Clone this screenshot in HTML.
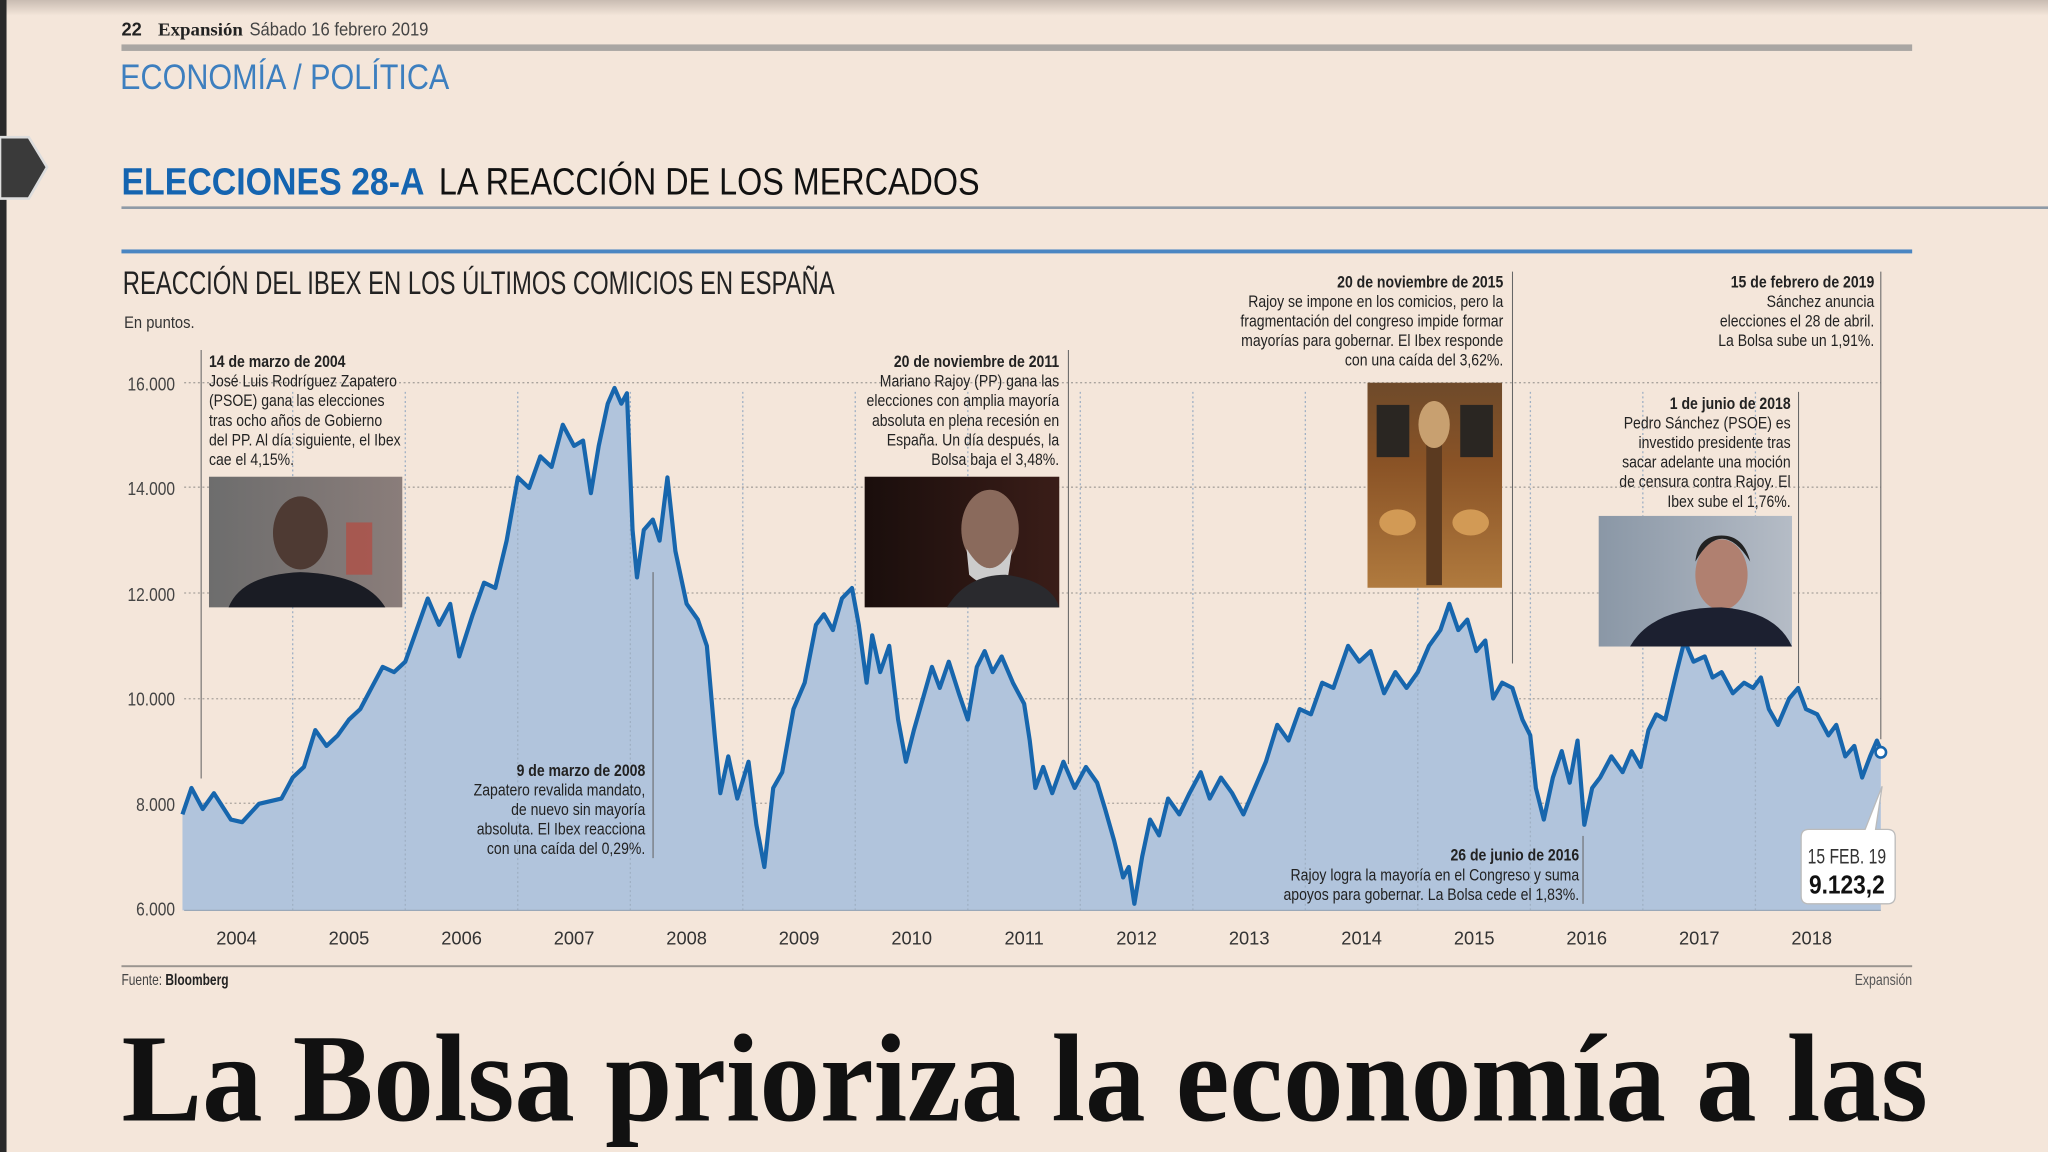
<!DOCTYPE html>
<html><head><meta charset="utf-8"><style>
html,body{margin:0;padding:0;background:#f4e6da;}
svg{display:block}
text{font-family:"Liberation Sans Narrow","Liberation Sans",sans-serif;fill:#222}
.n{font-size:12.5px}
.b{font-weight:bold;font-size:12.5px}
</style></head><body>
<svg width="2048" height="1152" viewBox="0 0 1568 882" preserveAspectRatio="none" xmlns="http://www.w3.org/2000/svg">
<defs>
<linearGradient id="top" x1="0" y1="0" x2="0" y2="1"><stop offset="0" stop-color="#c9bcb2"/><stop offset="1" stop-color="#f4e6da"/></linearGradient>
<linearGradient id="p1" x1="0" y1="0" x2="1" y2="0"><stop offset="0" stop-color="#6d6d6d"/><stop offset="1" stop-color="#8a7d7a"/></linearGradient>
<linearGradient id="p2" x1="0" y1="0" x2="1" y2="0"><stop offset="0" stop-color="#1a0e0c"/><stop offset="1" stop-color="#3a1d18"/></linearGradient>
<linearGradient id="p3" x1="0" y1="0" x2="0" y2="1"><stop offset="0" stop-color="#6e4a2a"/><stop offset=".4" stop-color="#8a5326"/><stop offset="1" stop-color="#b07a3e"/></linearGradient>
<linearGradient id="p4" x1="0" y1="0" x2="1" y2="0"><stop offset="0" stop-color="#8a97a6"/><stop offset="1" stop-color="#b5bcc6"/></linearGradient>
</defs>
<rect width="1568" height="882" fill="#f4e6da"/>
<rect width="1568" height="12" fill="url(#top)"/>
<rect x="0" y="0" width="5" height="882" fill="#2a2a2a"/>
<path d="M0,105 L22,105 L36,128 L22,152 L0,152 Z" fill="#3a3a3a" stroke="#ddd" stroke-width="2"/>

<text x="93" y="27" style="font-size:14px;font-weight:bold">22</text>
<text x="121" y="27" style="font-size:14px;font-weight:bold;font-family:'Liberation Serif',serif" textLength="65" lengthAdjust="spacingAndGlyphs">Expansión</text>
<text x="191" y="27" style="font-size:14px;fill:#444" textLength="137" lengthAdjust="spacingAndGlyphs">Sábado 16 febrero 2019</text>
<rect x="93" y="34" width="1371" height="5" fill="#a9a6a3"/>
<text x="92" y="68" style="font-size:27px;fill:#3d7fbf" textLength="252" lengthAdjust="spacingAndGlyphs">ECONOMÍA / POLÍTICA</text>

<text x="93" y="149" style="font-size:29px;font-weight:bold;fill:#1464b0;font-family:'Liberation Sans',sans-serif" textLength="232" lengthAdjust="spacingAndGlyphs">ELECCIONES 28-A</text>
<text x="336" y="149" style="font-size:29px;fill:#111" textLength="414" lengthAdjust="spacingAndGlyphs">LA REACCIÓN DE LOS MERCADOS</text>
<rect x="93" y="158" width="1475" height="2" fill="#8e9aa6"/>
<rect x="93" y="191" width="1371" height="3" fill="#4a86c2"/>
<text x="94" y="225" style="font-size:25px;fill:#222" textLength="545" lengthAdjust="spacingAndGlyphs">REACCIÓN DEL IBEX EN LOS ÚLTIMOS COMICIOS EN ESPAÑA</text>
<text x="95" y="251" style="font-size:13px;fill:#333" textLength="54" lengthAdjust="spacingAndGlyphs">En puntos.</text>

<!-- grid -->
<g stroke="#a9a39d" stroke-width="1" stroke-dasharray="1.5,2">
<line x1="141" y1="615" x2="1440" y2="615"/><line x1="141" y1="535" x2="1440" y2="535"/><line x1="141" y1="454" x2="1440" y2="454"/><line x1="141" y1="373" x2="1440" y2="373"/><line x1="141" y1="293" x2="1440" y2="293"/>
</g>
<g style="font-size:14px" text-anchor="end" transform="matrix(0.85,0,0,1,20.1,0)">
<text x="134" y="299" style="fill:#444">16.000</text><text x="134" y="379" style="fill:#444">14.000</text><text x="134" y="460" style="fill:#444">12.000</text><text x="134" y="540" style="fill:#444">10.000</text><text x="134" y="621" style="fill:#444">8.000</text><text x="134" y="701" style="fill:#444">6.000</text>
</g>

<g id="data">
<path fill="#b1c4dc" stroke="none" d="M139.7,623.5 L146.6,603.3 L155.2,619.4 L163.8,607.3 L176.8,627.5 L185.4,629.5 L198.3,615.4 L215.5,611.4 L224.1,595.3 L232.7,587.2 L241.4,559.0 L250.0,571.1 L258.6,563.0 L267.2,550.9 L275.8,542.9 L284.4,526.7 L293.0,510.6 L301.7,514.6 L310.3,506.6 L318.9,482.4 L327.5,458.2 L336.1,478.4 L344.7,462.3 L351.6,502.6 L362.0,470.3 L370.6,446.1 L379.2,450.2 L387.9,413.9 L396.5,365.5 L405.1,373.6 L413.7,349.4 L422.3,357.5 L430.9,325.2 L439.5,341.4 L446.4,337.3 L452.4,377.6 L458.4,341.4 L465.3,309.1 L470.5,297.0 L475.7,309.1 L480.0,301.1 L484.3,405.8 L487.7,442.1 L492.9,405.8 L499.8,397.8 L505.0,413.9 L511.0,365.5 L517.1,421.9 L525.7,462.3 L534.3,474.4 L541.2,494.5 L547.2,563.0 L551.5,607.3 L557.6,579.1 L564.5,611.4 L573.1,583.2 L579.1,631.5 L585.2,663.8 L592.0,603.3 L598.9,591.2 L607.5,542.9 L616.1,522.7 L624.7,478.4 L630.8,470.3 L637.7,482.4 L644.6,458.2 L652.3,450.2 L657.5,478.4 L663.5,522.7 L667.8,486.4 L673.9,514.6 L680.8,494.5 L687.6,550.9 L693.6,583.2 L699.7,559.0 L706.6,534.8 L713.5,510.6 L719.5,526.7 L726.4,506.6 L734.1,530.8 L741.0,550.9 L747.9,510.6 L753.9,498.5 L760.0,514.6 L766.9,502.6 L775.5,522.7 L784.1,538.8 L788.4,567.0 L792.7,603.3 L798.7,587.2 L805.6,607.3 L814.2,583.2 L822.8,603.3 L831.4,587.2 L840.0,599.3 L846.1,619.4 L853.0,643.6 L859.9,671.8 L864.2,663.8 L868.5,692.0 L874.5,655.7 L880.5,627.5 L887.4,639.6 L894.3,611.4 L902.9,623.5 L910.7,607.3 L919.3,591.2 L926.2,611.4 L934.8,595.3 L943.4,607.3 L952.0,623.5 L960.6,603.3 L969.2,583.2 L977.9,555.0 L986.5,567.0 L995.1,542.9 L1003.7,546.9 L1012.3,522.7 L1020.9,526.7 L1032.1,494.5 L1040.7,506.6 L1049.4,498.5 L1059.7,530.8 L1068.3,514.6 L1076.9,526.7 L1085.5,514.6 L1094.1,494.5 L1102.8,482.4 L1109.6,462.3 L1116.5,482.4 L1123.4,474.4 L1130.3,498.5 L1137.2,490.4 L1143.2,534.8 L1150.1,522.7 L1157.9,526.7 L1165.6,550.9 L1171.6,563.0 L1175.9,603.3 L1182.0,627.5 L1188.9,595.3 L1195.7,575.1 L1201.8,599.3 L1207.8,567.0 L1213.0,631.5 L1219.0,603.3 L1225.1,595.3 L1233.7,579.1 L1242.3,591.2 L1249.2,575.1 L1256.1,587.2 L1262.1,559.0 L1268.1,546.9 L1275.0,550.9 L1283.6,514.6 L1289.7,490.4 L1296.6,506.6 L1305.2,502.6 L1311.2,518.7 L1318.1,514.6 L1326.7,530.8 L1335.3,522.7 L1342.2,526.7 L1348.2,518.7 L1354.3,542.9 L1361.2,555.0 L1369.8,534.8 L1376.7,526.7 L1382.7,542.9 L1391.3,546.9 L1399.9,563.0 L1405.9,555.0 L1412.8,579.1 L1419.7,571.1 L1425.7,595.3 L1431.8,579.1 L1437.0,567.0 L1440.0,574.0 L1440,697 L139.7,697 Z"/>
<g stroke="#9fb0c4" stroke-width="1" stroke-dasharray="1.5,2">
<line x1="224.1" y1="300" x2="224.1" y2="697"/><line x1="310.3" y1="300" x2="310.3" y2="697"/><line x1="396.4" y1="300" x2="396.4" y2="697"/><line x1="482.6" y1="300" x2="482.6" y2="697"/><line x1="568.7" y1="300" x2="568.7" y2="697"/><line x1="654.8" y1="300" x2="654.8" y2="697"/><line x1="741.0" y1="300" x2="741.0" y2="697"/><line x1="827.1" y1="300" x2="827.1" y2="697"/><line x1="913.3" y1="300" x2="913.3" y2="697"/><line x1="999.4" y1="300" x2="999.4" y2="697"/><line x1="1085.5" y1="300" x2="1085.5" y2="697"/><line x1="1171.7" y1="300" x2="1171.7" y2="697"/><line x1="1257.8" y1="300" x2="1257.8" y2="697"/><line x1="1344.0" y1="300" x2="1344.0" y2="697"/>
</g>
<path fill="none" stroke="#1766ad" stroke-width="3.2" stroke-linejoin="round" d="M139.7,623.5 L146.6,603.3 L155.2,619.4 L163.8,607.3 L176.8,627.5 L185.4,629.5 L198.3,615.4 L215.5,611.4 L224.1,595.3 L232.7,587.2 L241.4,559.0 L250.0,571.1 L258.6,563.0 L267.2,550.9 L275.8,542.9 L284.4,526.7 L293.0,510.6 L301.7,514.6 L310.3,506.6 L318.9,482.4 L327.5,458.2 L336.1,478.4 L344.7,462.3 L351.6,502.6 L362.0,470.3 L370.6,446.1 L379.2,450.2 L387.9,413.9 L396.5,365.5 L405.1,373.6 L413.7,349.4 L422.3,357.5 L430.9,325.2 L439.5,341.4 L446.4,337.3 L452.4,377.6 L458.4,341.4 L465.3,309.1 L470.5,297.0 L475.7,309.1 L480.0,301.1 L484.3,405.8 L487.7,442.1 L492.9,405.8 L499.8,397.8 L505.0,413.9 L511.0,365.5 L517.1,421.9 L525.7,462.3 L534.3,474.4 L541.2,494.5 L547.2,563.0 L551.5,607.3 L557.6,579.1 L564.5,611.4 L573.1,583.2 L579.1,631.5 L585.2,663.8 L592.0,603.3 L598.9,591.2 L607.5,542.9 L616.1,522.7 L624.7,478.4 L630.8,470.3 L637.7,482.4 L644.6,458.2 L652.3,450.2 L657.5,478.4 L663.5,522.7 L667.8,486.4 L673.9,514.6 L680.8,494.5 L687.6,550.9 L693.6,583.2 L699.7,559.0 L706.6,534.8 L713.5,510.6 L719.5,526.7 L726.4,506.6 L734.1,530.8 L741.0,550.9 L747.9,510.6 L753.9,498.5 L760.0,514.6 L766.9,502.6 L775.5,522.7 L784.1,538.8 L788.4,567.0 L792.7,603.3 L798.7,587.2 L805.6,607.3 L814.2,583.2 L822.8,603.3 L831.4,587.2 L840.0,599.3 L846.1,619.4 L853.0,643.6 L859.9,671.8 L864.2,663.8 L868.5,692.0 L874.5,655.7 L880.5,627.5 L887.4,639.6 L894.3,611.4 L902.9,623.5 L910.7,607.3 L919.3,591.2 L926.2,611.4 L934.8,595.3 L943.4,607.3 L952.0,623.5 L960.6,603.3 L969.2,583.2 L977.9,555.0 L986.5,567.0 L995.1,542.9 L1003.7,546.9 L1012.3,522.7 L1020.9,526.7 L1032.1,494.5 L1040.7,506.6 L1049.4,498.5 L1059.7,530.8 L1068.3,514.6 L1076.9,526.7 L1085.5,514.6 L1094.1,494.5 L1102.8,482.4 L1109.6,462.3 L1116.5,482.4 L1123.4,474.4 L1130.3,498.5 L1137.2,490.4 L1143.2,534.8 L1150.1,522.7 L1157.9,526.7 L1165.6,550.9 L1171.6,563.0 L1175.9,603.3 L1182.0,627.5 L1188.9,595.3 L1195.7,575.1 L1201.8,599.3 L1207.8,567.0 L1213.0,631.5 L1219.0,603.3 L1225.1,595.3 L1233.7,579.1 L1242.3,591.2 L1249.2,575.1 L1256.1,587.2 L1262.1,559.0 L1268.1,546.9 L1275.0,550.9 L1283.6,514.6 L1289.7,490.4 L1296.6,506.6 L1305.2,502.6 L1311.2,518.7 L1318.1,514.6 L1326.7,530.8 L1335.3,522.7 L1342.2,526.7 L1348.2,518.7 L1354.3,542.9 L1361.2,555.0 L1369.8,534.8 L1376.7,526.7 L1382.7,542.9 L1391.3,546.9 L1399.9,563.0 L1405.9,555.0 L1412.8,579.1 L1419.7,571.1 L1425.7,595.3 L1431.8,579.1 L1437.0,567.0 L1440.0,574.0"/>
</g>
<line x1="141" y1="697" x2="1440" y2="697" stroke="#9aa8b8" stroke-width="1"/>

<g style="font-size:14px" text-anchor="middle">
<text x="181.1" y="723" style="fill:#333">2004</text><text x="267.2" y="723" style="fill:#333">2005</text><text x="353.4" y="723" style="fill:#333">2006</text><text x="439.5" y="723" style="fill:#333">2007</text><text x="525.7" y="723" style="fill:#333">2008</text><text x="611.8" y="723" style="fill:#333">2009</text><text x="698.0" y="723" style="fill:#333">2010</text><text x="784.1" y="723" style="fill:#333">2011</text><text x="870.2" y="723" style="fill:#333">2012</text><text x="956.4" y="723" style="fill:#333">2013</text><text x="1042.5" y="723" style="fill:#333">2014</text><text x="1128.7" y="723" style="fill:#333">2015</text><text x="1214.8" y="723" style="fill:#333">2016</text><text x="1301.0" y="723" style="fill:#333">2017</text><text x="1387.1" y="723" style="fill:#333">2018</text>
</g>
<rect x="93" y="739" width="1371" height="1.5" fill="#9a9590"/>
<text x="93" y="754" style="font-size:12px;fill:#444" textLength="82" lengthAdjust="spacingAndGlyphs">Fuente: <tspan style="font-weight:bold;fill:#222">Bloomberg</tspan></text>
<text x="1464" y="754" text-anchor="end" style="font-size:12px;fill:#555" textLength="44" lengthAdjust="spacingAndGlyphs">Expansión</text>

<!-- annotation lines -->
<g stroke="#666" stroke-width="0.8">
<line x1="154" y1="268" x2="154" y2="596"/>
<line x1="500" y1="438" x2="500" y2="657"/>
<line x1="818" y1="268" x2="818" y2="585"/>
<line x1="1158" y1="208" x2="1158" y2="508"/>
<line x1="1212" y1="640" x2="1212" y2="692"/>
<line x1="1377" y1="300" x2="1377" y2="523"/>
<line x1="1440" y1="208" x2="1440" y2="566"/>
</g>

<!-- 2004 -->
<g transform="matrix(0.86,0,0,1,22.4,0)">
<text x="160" y="281" class="b">14 de marzo de 2004</text>
<text class="n"><tspan x="160" y="296">José Luis Rodríguez Zapatero</tspan><tspan x="160" y="311">(PSOE) gana las elecciones</tspan><tspan x="160" y="326">tras ocho años de Gobierno</tspan><tspan x="160" y="341">del PP. Al día siguiente, el Ibex</tspan><tspan x="160" y="356">cae el 4,15%.</tspan></text>
</g>
<rect x="160" y="365" width="148" height="100" fill="url(#p1)"/>
<rect x="265" y="400" width="20" height="40" fill="#b54a40" opacity=".7"/>
<ellipse cx="230" cy="408" rx="21" ry="28" fill="#4e3a33"/>
<path d="M175,465 Q185,440 230,438 Q280,440 295,465 Z" fill="#1a1c24"/>

<!-- 2008 -->
<g text-anchor="end" transform="matrix(0.86,0,0,1,69.2,0)"><text x="494" y="594" class="b">9 de marzo de 2008</text>
<text class="n"><tspan x="494" y="609">Zapatero revalida mandato,</tspan><tspan x="494" y="624">de nuevo sin mayoría</tspan><tspan x="494" y="639">absoluta. El Ibex reacciona</tspan><tspan x="494" y="654">con una caída del 0,29%.</tspan></text></g>

<!-- 2011 -->
<g text-anchor="end" transform="matrix(0.86,0,0,1,113.5,0)"><text x="811" y="281" class="b">20 de noviembre de 2011</text>
<text class="n"><tspan x="811" y="296">Mariano Rajoy (PP) gana las</tspan><tspan x="811" y="311">elecciones con amplia mayoría</tspan><tspan x="811" y="326">absoluta en plena recesión en</tspan><tspan x="811" y="341">España. Un día después, la</tspan><tspan x="811" y="356">Bolsa baja el 3,48%.</tspan></text></g>
<rect x="662" y="365" width="149" height="100" fill="url(#p2)"/>
<ellipse cx="758" cy="405" rx="22" ry="30" fill="#8a6a5c"/>
<path d="M740,420 Q758,450 775,420 L772,440 Q758,455 742,440Z" fill="#ccc"/>
<path d="M725,465 Q740,440 770,440 Q805,445 811,465 Z" fill="#2a2a2e"/>

<!-- 2015 -->
<g text-anchor="end" transform="matrix(0.86,0,0,1,161.1,0)"><text x="1151" y="220" class="b">20 de noviembre de 2015</text>
<text class="n"><tspan x="1151" y="235">Rajoy se impone en los comicios, pero la</tspan><tspan x="1151" y="250">fragmentación del congreso impide formar</tspan><tspan x="1151" y="265">mayorías para gobernar. El Ibex responde</tspan><tspan x="1151" y="280">con una caída del 3,62%.</tspan></text></g>
<rect x="1047" y="293" width="103" height="157" fill="url(#p3)"/>
<rect x="1054" y="310" width="25" height="40" fill="#2a2622"/><rect x="1118" y="310" width="25" height="40" fill="#2a2622"/>
<rect x="1092" y="330" width="12" height="118" fill="#5b3a20"/>
<ellipse cx="1098" cy="325" rx="12" ry="18" fill="#c8a070"/>
<ellipse cx="1070" cy="400" rx="14" ry="10" fill="#d29a55"/><ellipse cx="1126" cy="400" rx="14" ry="10" fill="#d29a55"/>

<!-- 2016 -->
<g text-anchor="end" transform="matrix(0.86,0,0,1,169.3,0)"><text x="1209" y="659" class="b">26 de junio de 2016</text>
<text class="n"><tspan x="1209" y="674">Rajoy logra la mayoría en el Congreso y suma</tspan><tspan x="1209" y="689">apoyos para gobernar. La Bolsa cede el 1,83%.</tspan></text></g>

<!-- 2018 -->
<g text-anchor="end" transform="matrix(0.86,0,0,1,191.9,0)"><text x="1371" y="313" class="b">1 de junio de 2018</text>
<text class="n"><tspan x="1371" y="328">Pedro Sánchez (PSOE) es</tspan><tspan x="1371" y="343">investido presidente tras</tspan><tspan x="1371" y="358">sacar adelante una moción</tspan><tspan x="1371" y="373">de censura contra Rajoy. El</tspan><tspan x="1371" y="388">Ibex sube el 1,76%.</tspan></text></g>
<rect x="1224" y="395" width="148" height="100" fill="url(#p4)"/>
<ellipse cx="1318" cy="440" rx="20" ry="27" fill="#b08070"/>
<path d="M1298,430 Q1318,395 1340,430 Q1335,410 1318,410 Q1300,410 1298,430Z" fill="#222"/>
<path d="M1248,495 Q1265,465 1318,465 Q1360,468 1372,495 Z" fill="#1c2030"/>

<!-- 2019 -->
<g text-anchor="end" transform="matrix(0.86,0,0,1,200.9,0)"><text x="1435" y="220" class="b">15 de febrero de 2019</text>
<text class="n"><tspan x="1435" y="235">Sánchez anuncia</tspan><tspan x="1435" y="250">elecciones el 28 de abril.</tspan><tspan x="1435" y="265">La Bolsa sube un 1,91%.</tspan></text></g>

<!-- callout -->
<path d="M1385,635 L1428,635 L1441,602 L1436,635 L1445,635 Q1451,635 1451,641 L1451,686 Q1451,692 1445,692 L1385,692 Q1379,692 1379,686 L1379,641 Q1379,635 1385,635Z" fill="#fff" stroke="#bbb" stroke-width="1"/>
<circle cx="1440" cy="576" r="4" fill="#fff" stroke="#1766ad" stroke-width="2"/>
<text x="1414" y="661" text-anchor="middle" style="font-size:16px;fill:#333" textLength="60" lengthAdjust="spacingAndGlyphs">15 FEB. 19</text>
<text x="1414" y="684" text-anchor="middle" style="font-size:20px;font-weight:bold;fill:#111" textLength="58" lengthAdjust="spacingAndGlyphs">9.123,2</text>

<text x="93" y="858" style="font-family:'Liberation Serif',serif;font-weight:bold;font-size:96px;fill:#111" textLength="1383" lengthAdjust="spacingAndGlyphs">La Bolsa prioriza la economía a las</text>
</svg>
</body></html>
